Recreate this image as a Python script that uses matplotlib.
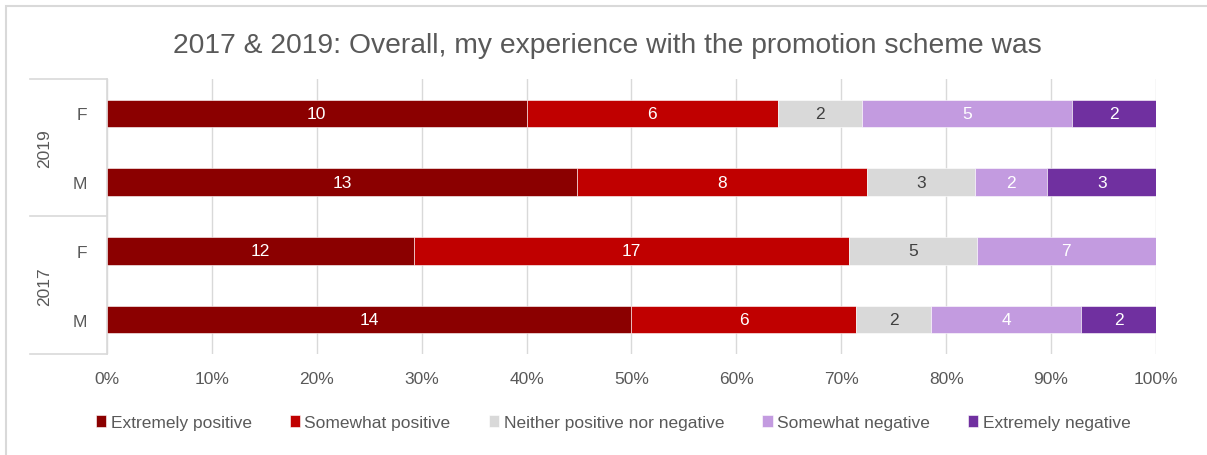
import matplotlib.pyplot as plt
from matplotlib.lines import Line2D
from matplotlib.patches import Rectangle
import numpy as np

plt.rcParams['font.family'] = ['Liberation Sans', 'DejaVu Sans']

years = ['2019', '2019', '2017', '2017']
genders = ['F', 'M', 'F', 'M']
responses = ['Extremely positive', 'Somewhat positive', 'Neither positive nor negative',
             'Somewhat negative', 'Extremely negative']
colors = ['#8B0000', '#C00000', '#D9D9D9', '#C39BE0', '#7030A0']

extremely_pos = [10, 13, 12, 14]
somewhat_pos = [6, 8, 17, 6]
neither = [2, 3, 5, 2]
somewhat_neg = [5, 2, 7, 4]
extremely_neg = [2, 3, 0, 2]

counts = np.array([extremely_pos, somewhat_pos, neither, somewhat_neg, extremely_neg], dtype=float)
shares = counts / counts.sum(axis=0)

fig = plt.figure(figsize=(12.07, 4.56), dpi=100)
ax = fig.add_axes([0.0886, 0.2215, 0.8691, 0.6031])

grey = '#595959'
y = np.arange(len(genders))
left = np.zeros(len(genders))
for i, name in enumerate(responses):
    bars = ax.barh(y, shares[i], left=left, height=0.4, color=colors[i],
                   edgecolor='white', linewidth=0.4, label=name, zorder=3)
    for j, b in enumerate(bars):
        if counts[i, j] > 0:
            ax.text(left[j] + shares[i, j] / 2, y[j], f'{int(counts[i, j])}',
                    ha='center', va='center', color='white' if i != 2 else '#404040',
                    fontsize=12.5, zorder=4)
    left += shares[i]

ax.set_xlim(0, 1)
ax.set_ylim(3.5, -0.5)
ax.set_xticks(np.arange(0, 1.01, 0.1))
ax.set_xticklabels([f'{int(round(v * 100))}%' for v in np.arange(0, 1.01, 0.1)])
ax.tick_params(axis='x', length=0, labelsize=12.5, labelcolor=grey, pad=12)
ax.grid(axis='x', color='#D9D9D9', linewidth=1, zorder=0)
for s in ['top', 'right', 'bottom']:
    ax.spines[s].set_visible(False)
ax.spines['left'].set_color('#D9D9D9')
ax.spines['left'].set_linewidth(1.2)

# gender labels and year groups on the left
ax.set_yticks(y)
ax.set_yticklabels(genders)
ax.tick_params(axis='y', length=0, labelsize=12.5, labelcolor=grey, pad=14)
for yy in [-0.5, 1.5, 3.5]:
    ax.add_line(Line2D([-0.0734, 0], [yy, yy], transform=ax.get_yaxis_transform(),
                       color='#D9D9D9', linewidth=1.2, clip_on=False))
for yc, label in [(0.5, '2019'), (2.5, '2017')]:
    ax.text(-0.059, yc, label, transform=ax.get_yaxis_transform(), rotation=90,
            ha='center', va='center', fontsize=12.5, color=grey)

fig.suptitle('2017 & 2019: Overall, my experience with the promotion scheme was',
             x=0.503, y=0.928, fontsize=20.3, color=grey)

fig.legend(loc='center', bbox_to_anchor=(0.508, 0.072), ncol=5, frameon=False,
           fontsize=12.5, labelcolor=grey, handlelength=0.6, handleheight=0.7,
           handletextpad=0.25, columnspacing=2.2)

# chart border
fig.add_artist(Rectangle((0.005, -0.1), 1.2, 1.085, transform=fig.transFigure,
                         fill=False, edgecolor='#D9D9D9', linewidth=1.5))

fig.savefig('out.png', dpi=100)
